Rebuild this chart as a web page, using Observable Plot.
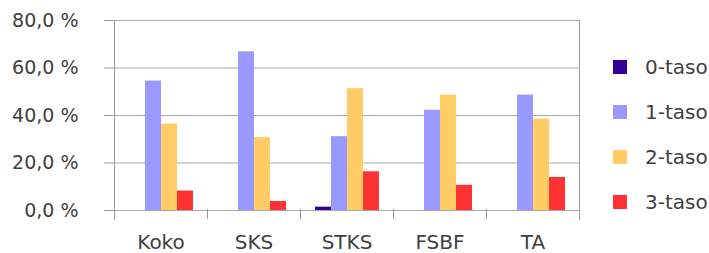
<!DOCTYPE html>
<html>
<head>
<meta charset="utf-8">
<script src="https://cdn.jsdelivr.net/npm/d3@7"></script>
<script src="https://cdn.jsdelivr.net/npm/@observablehq/plot@0.6"></script>
<style>
  html, body { margin: 0; padding: 0; background: #fff; }
  #wrap { position: relative; width: 709px; height: 253px; overflow: hidden; font-family: "DejaVu Sans", sans-serif; }
  #legend { position: absolute; left: 613px; top: 44px; }
  .item { display: flex; align-items: center; height: 45px; white-space: nowrap; }
  .sw { width: 14px; height: 14px; margin-right: 18px; flex: none; }
  .lab { font-size: 20px; color: #404040; }
</style>
</head>
<body>
<div id="wrap"><div id="chart"></div><div id="legend"></div></div>
<script>
const categories = ["Koko", "SKS", "STKS", "FSBF", "TA"];
const series = ["0-taso", "1-taso", "2-taso", "3-taso"];
const taso0 = [0, 0, 1.4, 0, 0];
const taso1 = [54.5, 66.8, 31.1, 42.2, 48.6];
const taso2 = [36.4, 30.7, 51.3, 48.6, 38.5];
const taso3 = [8.2, 3.8, 16.3, 10.6, 13.9];
const colors = ["#330099", "#9999ff", "#ffcc66", "#ff3333"];
const yTicks = [0, 20, 40, 60, 80];

const values = [taso0, taso1, taso2, taso3];
const data = categories.flatMap((c, i) => series.map((s, j) => ({cat: c, series: s, value: values[j][i]})));

const fmt = d => d.toFixed(1).replace(".", ",") + " %";

const chart = Plot.plot({
  width: 600,
  height: 253,
  marginLeft: 113,
  marginRight: 20,
  marginTop: 20,
  marginBottom: 43,
  style: {fontFamily: "DejaVu Sans, sans-serif", color: "#404040", background: "white"},
  fx: {domain: categories, paddingInner: 0, paddingOuter: 0, label: null},
  x: {domain: series, paddingInner: 0, paddingOuter: 0.8, axis: null},
  y: {domain: [0, 80], label: null},
  color: {domain: series, range: colors},
  marks: [
    Plot.ruleY(yTicks, {stroke: "#a8a8a8"}),
    Plot.axisY({ticks: yTicks, tickSize: 10, tickPadding: 26, tickFormat: fmt, fontSize: 19, label: null, stroke: "#999", fill: "#404040"}),
    Plot.frame({anchor: "left", insetTop: 189, insetBottom: -8, stroke: "#999"}),
    Plot.frame({anchor: "left", facetAnchor: "left", insetBottom: -9, stroke: "#999"}),
    Plot.frame({anchor: "right", facetAnchor: "right", insetBottom: -9, stroke: "#999"}),
    Plot.barY(data, {fx: "cat", x: "series", y: "value", fill: "series"}),
    Plot.axisFx({anchor: "bottom", tickSize: 0, tickPadding: 24, fontSize: 20, label: null, fill: "#404040"})
  ]
});
document.getElementById("chart").appendChild(chart);

const legend = document.getElementById("legend");
series.forEach((s, i) => {
  const item = document.createElement("div");
  item.className = "item";
  const sw = document.createElement("div");
  sw.className = "sw";
  sw.style.background = colors[i];
  const lab = document.createElement("span");
  lab.className = "lab";
  lab.textContent = s;
  item.appendChild(sw);
  item.appendChild(lab);
  legend.appendChild(item);
});
</script>
</body>
</html>
